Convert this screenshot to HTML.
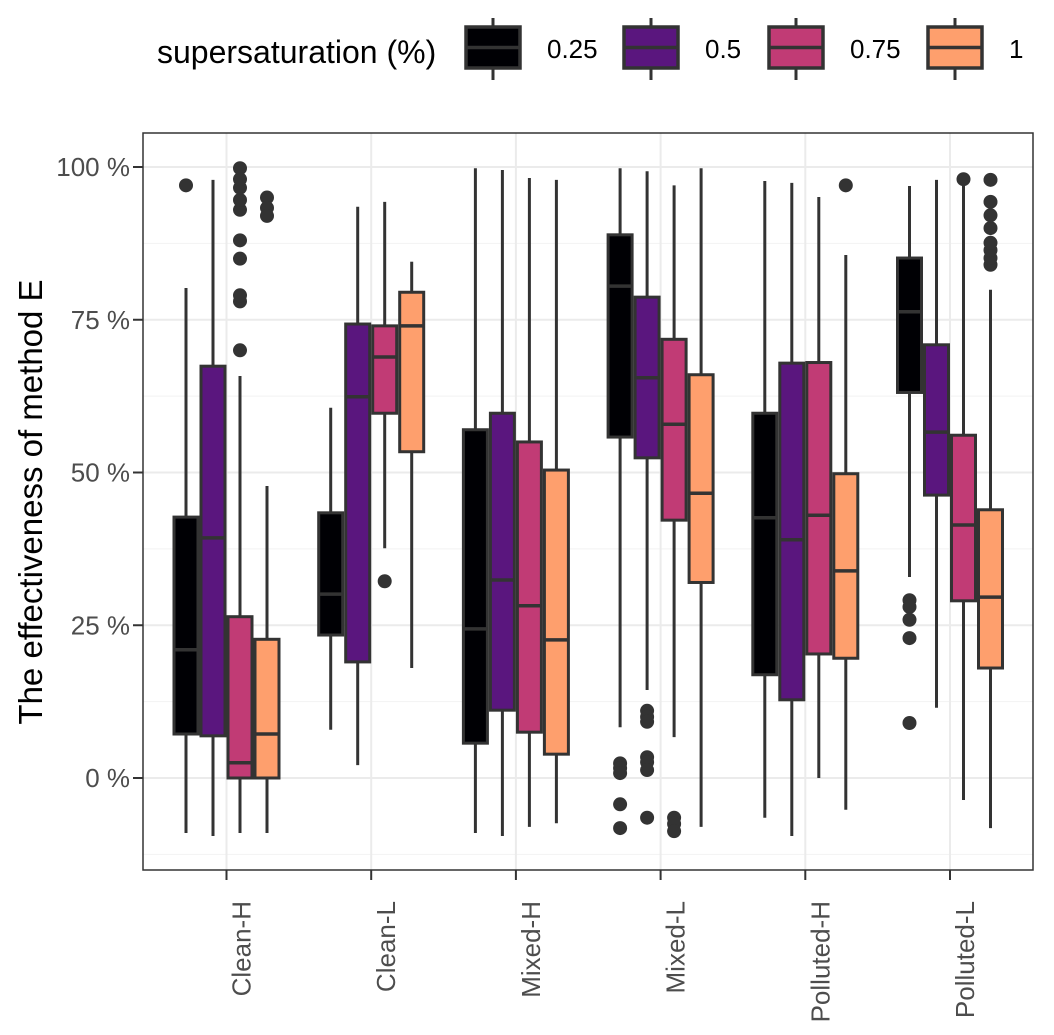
<!DOCTYPE html>
<html><head><meta charset="utf-8"><style>
body{margin:0;background:#fff}
svg text{font-family:"Liberation Sans",Arial,sans-serif}
</style></head><body>
<svg id="chart" width="1054" height="1030" viewBox="0 0 1054 1030" xmlns="http://www.w3.org/2000/svg">
<rect x="0" y="0" width="1054" height="1030" fill="#fff"/>
<g id="grid"></g>
<g id="boxes"></g>
<rect x="143" y="133" width="890" height="737" fill="none" stroke="#333" stroke-width="1.5"/>
<g id="axes"></g>
<text transform="translate(42,502) rotate(-90)" text-anchor="middle" font-size="33" fill="#000">The effectiveness of method E</text>
<g id="legend"></g>
</svg>
<script>
const categories=["Clean-H","Clean-L","Mixed-H","Mixed-L","Polluted-H","Polluted-L"];
const levels=["0.25","0.5","0.75","1"];
const colors=["#000004","#5A167E","#C13B75","#FE9F6D"];
const yTicks=[0,25,50,75,100];
const yTickLabels=["0 %","25 %","50 %","75 %","100 %"];
// [lowerWhisker, q1, median, q3, upperWhisker] per category per level
const statsS025=[[-9,7.2,21,42.7,80.2],[7.9,23.4,30.1,43.4,60.6],[-9,5.7,24.4,57,99.8],[8.3,55.8,80.5,88.9,99.8],[-6.5,16.9,42.6,59.7,97.7],[32.9,63.1,76.3,85.1,96.9]];
const statsS050=[[-9.5,6.9,39.3,67.4,97.9],[2.1,19,62.4,74.3,93.5],[-9.5,11.1,32.4,59.7,99.5],[14.4,52.4,65.5,78.7,99.3],[-9.5,12.8,39,67.9,97.4],[11.5,46.3,56.6,70.9,97.9]];
const statsS075=[[-9,0,2.5,26.4,65.8],[37.6,59.7,68.9,74,94.3],[-8,7.5,28.2,55,98.2],[6.7,42.2,57.9,71.8,97],[0,20.3,43,68,95.1],[-3.6,29,41.4,56.1,97.5]];
const statsS100=[[-9,0,7.2,22.7,47.8],[18,53.4,74,79.5,84.5],[-7.4,3.9,22.6,50.4,97.9],[-8,32,46.6,66,99.8],[-5.2,19.6,33.9,49.8,85.6],[-8.2,18,29.6,43.9,79.9]];
const outS025=[[97],[],[],[2.4,1.6,0.8,-4.3,-8.2],[],[29.1,28,25.9,22.9,9]];
const outS050=[[],[],[],[11,10,9.2,3.4,2.6,1.3,-6.5],[],[]];
const outS075=[[70,78,79,85,88,93,94.6,96.6,98,99.8],[32.2],[],[-6.5,-7.5,-8.7],[],[98]];
const outS100=[[95,93.3,92],[],[],[],[97],[84,85.1,86.4,87.6,90,92.1,94.3,97.9]];
const allStats=[statsS025,statsS050,statsS075,statsS100];
const allOut=[outS025,outS050,outS075,outS100];

const NS="http://www.w3.org/2000/svg";
const px0=143,px1=1033;
const y=v=>778-v*6.11;
const xc=i=>226.5+144.7*i;
const boxW=27;
const xoff=j=>(j-1.5)*boxW;
function mk(t,a,p){const e=document.createElementNS(NS,t);for(const k in a)e.setAttribute(k,a[k]);p.appendChild(e);return e;}
const grid=document.getElementById('grid'),boxes=document.getElementById('boxes'),axes=document.getElementById('axes'),legend=document.getElementById('legend');
for(let v=-12.5;v<=112.5;v+=25){const yy=y(v);if(yy<133||yy>870)continue;
 const l=mk('line',{x1:px0,x2:px1,y1:yy,y2:yy,stroke:'#f2f2f2','stroke-width':1},grid);
 
 }
yTicks.forEach((v,i)=>{const yy=y(v);
 const l=mk('line',{x1:px0,x2:px1,y1:yy,y2:yy,stroke:'#ebebeb','stroke-width':2},grid);
 
 
 const t=mk('line',{x1:px0-10,x2:px0,y1:yy,y2:yy,stroke:'#333','stroke-width':2},axes);
 
 
 const tx=mk('text',{x:px0-13,y:yy+9,'text-anchor':'end','font-size':26,fill:'#4d4d4d'},axes);
 tx.textContent=yTickLabels[i];
 
 });
categories.forEach((c,i)=>{const x=xc(i);
 const l=mk('line',{x1:x,x2:x,y1:133,y2:870,stroke:'#ebebeb','stroke-width':2},grid);
 
 
 const t=mk('line',{x1:x,x2:x,y1:870,y2:880,stroke:'#333','stroke-width':2},axes);
 
 
 const tx=mk('text',{transform:`translate(${x+24},901) rotate(-90)`,'text-anchor':'end','font-size':26,fill:'#4d4d4d'},axes);
 tx.textContent=c;
 
 });
categories.forEach((c,i)=>{levels.forEach((lv,j)=>{
 const s=allStats[j][i];const cx=xc(i)+xoff(j);
 const g=mk('g',{},boxes);
 
 
 mk('line',{x1:cx,x2:cx,y1:y(s[0]),y2:y(s[1]),stroke:'#333','stroke-width':3},g);
 mk('line',{x1:cx,x2:cx,y1:y(s[3]),y2:y(s[4]),stroke:'#333','stroke-width':3},g);
 mk('rect',{x:cx-boxW/2+1.5,y:y(s[3]),width:boxW-3,height:y(s[1])-y(s[3]),fill:colors[j],stroke:'#333','stroke-width':3},g);
 mk('line',{x1:cx-boxW/2+1.5,x2:cx+boxW/2-1.5,y1:y(s[2]),y2:y(s[2]),stroke:'#333','stroke-width':3.5},g);
 allOut[j][i].forEach(v=>{const o=mk('circle',{cx:cx,cy:y(v),r:7,fill:'#333'},g);
  
  });
});});
const lt=mk('text',{x:157,y:63,'font-size':32,fill:'#000'},legend);
lt.textContent='supersaturation (%)';


const lx=[466,624,769,928];
levels.forEach((lv,j)=>{const g=mk('g',{},legend);
 
 
 const x=lx[j];
 mk('line',{x1:x+27,x2:x+27,y1:18,y2:80,stroke:'#333','stroke-width':3},g);
 mk('rect',{x:x,y:27,width:54,height:41,fill:colors[j],stroke:'#333','stroke-width':3.5},g);
 mk('line',{x1:x,x2:x+54,y1:47.5,y2:47.5,stroke:'#333','stroke-width':3.5},g);
 const t=mk('text',{x:x+81,y:58,'font-size':26,fill:'#000'},g);t.textContent=lv;});
</script>
</body></html>
